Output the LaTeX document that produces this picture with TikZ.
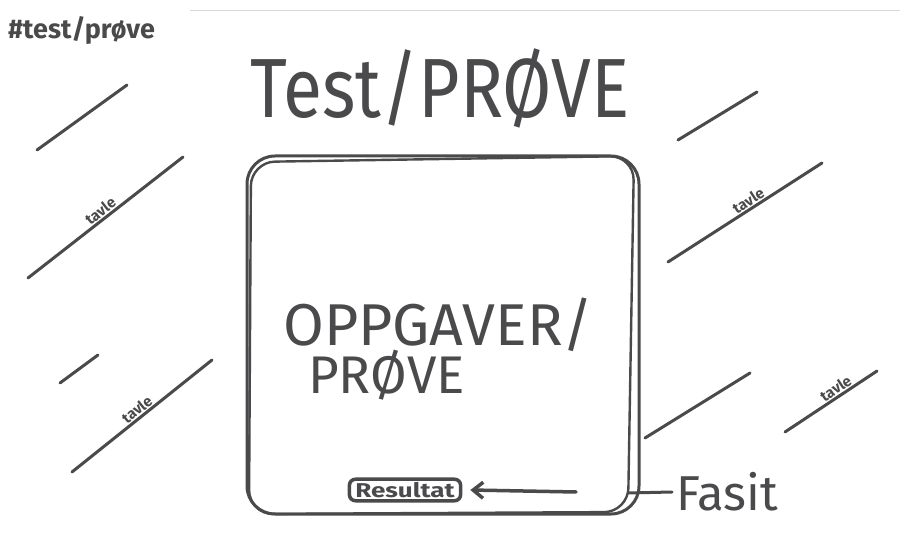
\documentclass[tikz,border=0pt]{standalone}
\usepackage{fontspec}
\setmainfont{Fira Sans}
\usetikzlibrary{arrows.meta}
\definecolor{ink}{HTML}{4A4A4C}
\tikzset{
  pen/.style={draw=ink, line width=3pt, line cap=round, line join=round},
  hand/.style={text=ink, inner sep=0pt},
  tavlelbl/.style={hand, font=\fontsize{15}{15}\selectfont\bfseries, sloped, above, inner sep=1pt},
}
\begin{document}
\begin{tikzpicture}[x=1pt,y=-1pt]
\useasboundingbox (0,0) rectangle (900,534);
\fill[white] (0,0) rectangle (900,534);
% faint top rule
\coordinate (r1) at (190,10); \coordinate (r2) at (900,10);
\draw[black!15, line width=0.8pt] (r1) -- (r2);
% tag
\node[hand, anchor=west, font=\fontsize{27}{27}\selectfont\bfseries] (tag) at (8,30) {\#test/prøve};
% title
\node[hand, font=\fontsize{84}{84}\selectfont] (title) at (440,88) {\scalebox{0.85}[1]{Test/PRØVE}};
% main box
\node[pen, rounded corners=28pt, minimum width=392pt, minimum height=358pt] (box) at (443,335) {};
\draw[pen, line width=2.4pt, rounded corners=24pt] (251,162) -- (634,156) -- (628,512) -- (249,514) -- cycle;
\node[hand, anchor=west, font=\fontsize{59}{59}\selectfont] (t1) at (283,325) {OPPGAVER/};
\node[hand, anchor=west, font=\fontsize{53}{53}\selectfont] (t2) at (308,375) {PRØVE};
% result
\node[pen, line width=3.5pt, rounded corners=6pt, inner xsep=6pt, inner ysep=3pt, font=\fontsize{20}{20}\selectfont\bfseries, text=ink] (res) at (405,490) {\scalebox{1.3}[1]{Resultat}};
\coordinate (ar) at (576,492);
\coordinate (arend) at ([xshift=8pt]res.east);
\draw[pen, line width=3.5pt, -{Straight Barb[length=10pt,width=16pt]}] (ar) -- (arend);
\node[hand, anchor=west, font=\fontsize{49}{49}\selectfont] (fasit) at (676,492) {Fasit};
\coordinate (fl) at (628,493);
\draw[pen] (fl) -- ([xshift=-4pt]fasit.west);
% board lines
\coordinate (a1) at (37,150);  \coordinate (a2) at (127,85);
\coordinate (b1) at (28,278);  \coordinate (b2) at (183,157);
\coordinate (c1) at (60,383);  \coordinate (c2) at (98,355);
\coordinate (d1) at (72,472);  \coordinate (d2) at (212,360);
\coordinate (e1) at (678,140); \coordinate (e2) at (757,92);
\coordinate (f1) at (668,262); \coordinate (f2) at (822,163);
\coordinate (g1) at (645,438); \coordinate (g2) at (750,373);
\coordinate (h1) at (785,432); \coordinate (h2) at (877,371);
\draw[pen] (a1) -- (a2);
\draw[pen] (b1) -- node[tavlelbl, pos=0.5] (lb) {tavle} (b2);
\draw[pen] (c1) -- (c2);
\draw[pen] (d1) -- node[tavlelbl, pos=0.5] (ld) {tavle} (d2);
\draw[pen] (e1) -- (e2);
\draw[pen] (f1) -- node[tavlelbl, pos=0.55] (lf) {tavle} (f2);
\draw[pen] (g1) -- (g2);
\draw[pen] (h1) -- node[tavlelbl, pos=0.6] (lh) {tavle} (h2);
\end{tikzpicture}
\end{document}
